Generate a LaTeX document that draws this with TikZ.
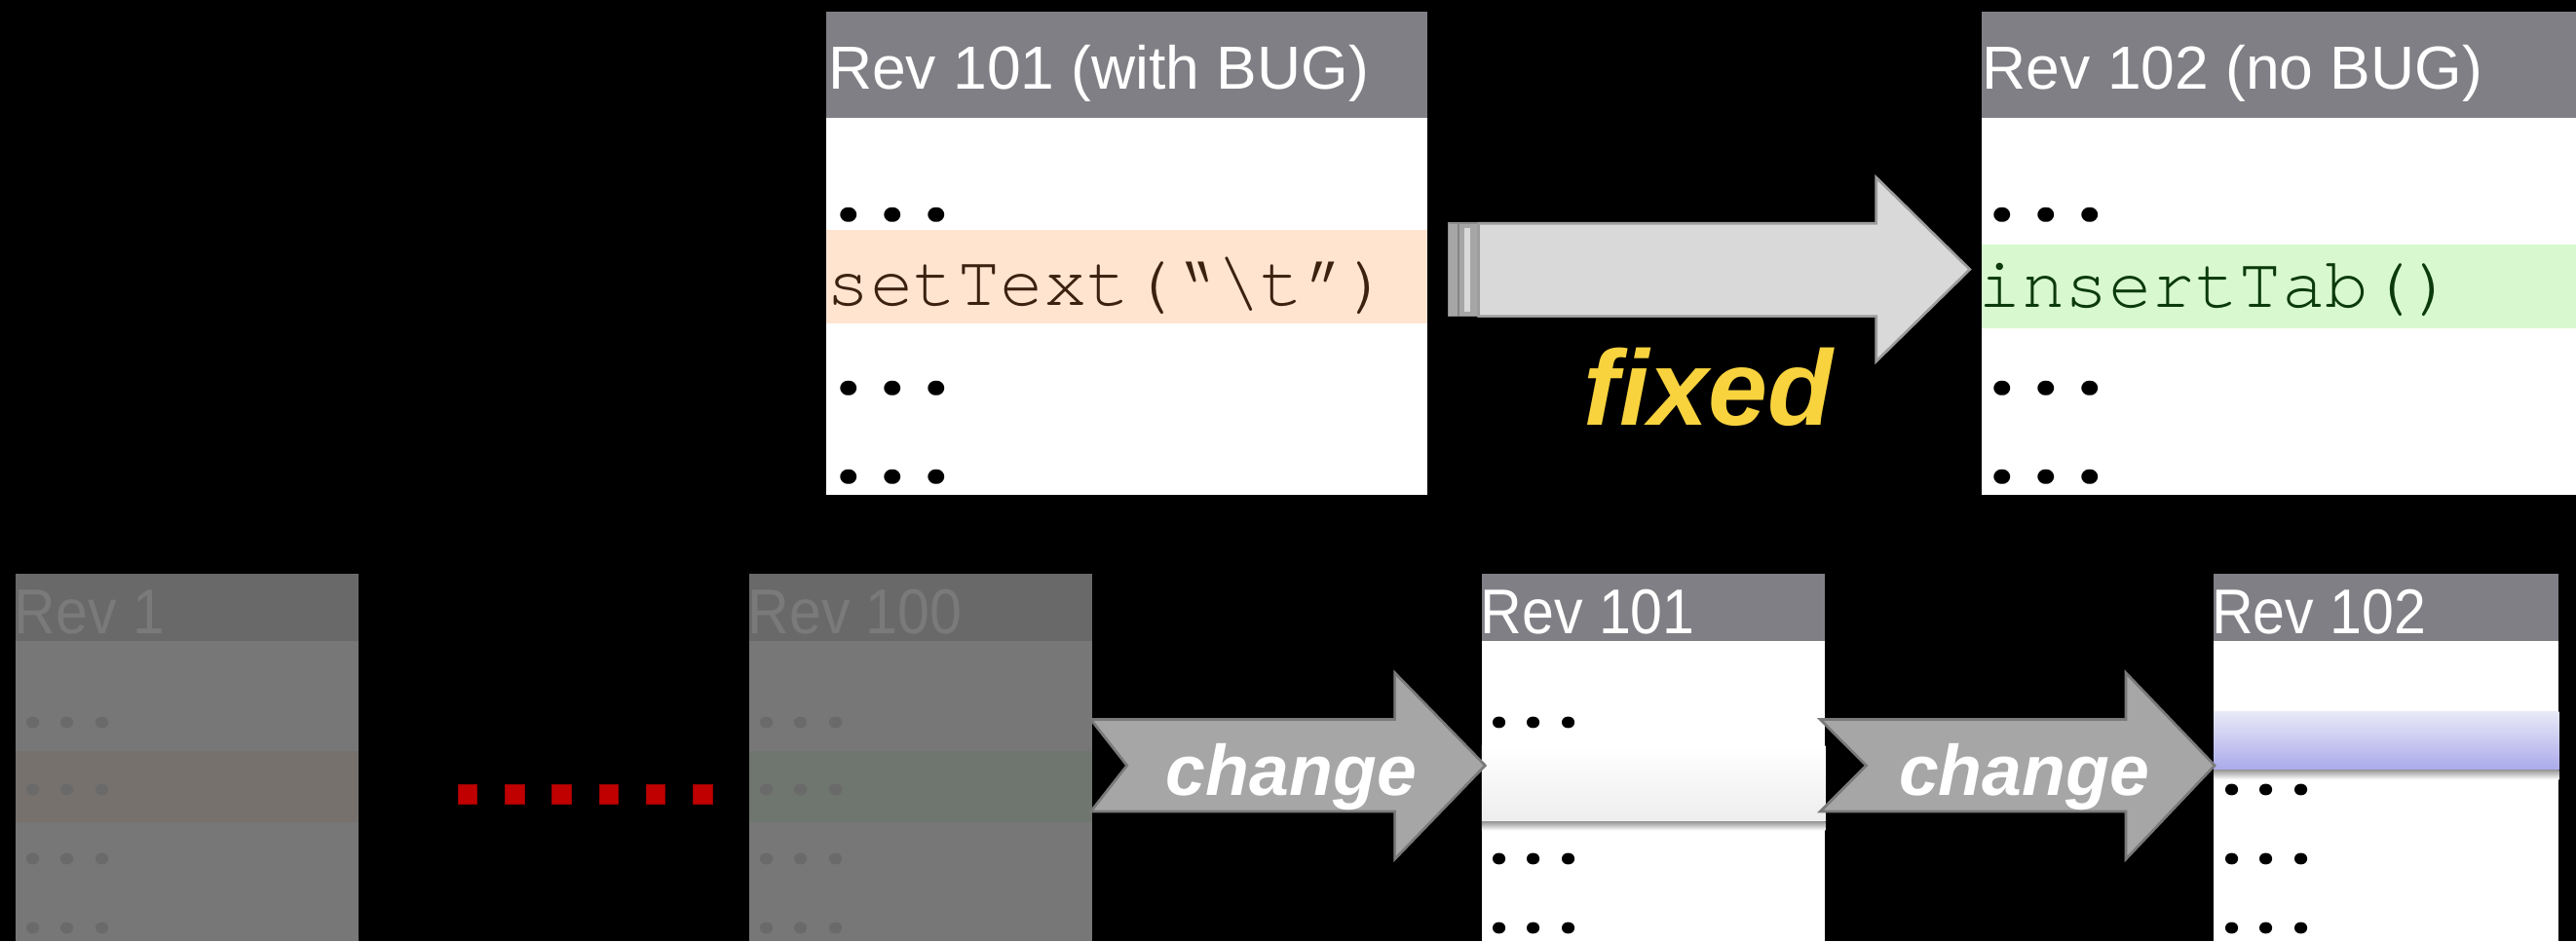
\documentclass[tikz,border=0pt]{standalone}
\usepackage{fontspec}
\setmainfont{Liberation Sans}
\newfontfamily\codefont{TeX Gyre Cursor}
\usetikzlibrary{calc}
\definecolor{hdr}{HTML}{807F85}
\definecolor{dimhdr}{HTML}{696969}
\definecolor{dimbody}{HTML}{777777}
\definecolor{dimtext}{HTML}{7A7A7A}
\definecolor{dimdot}{HTML}{6A6A6A}
\definecolor{dimorange}{HTML}{76716D}
\definecolor{dimgreen}{HTML}{6F756F}
\definecolor{orangeband}{HTML}{FFE4D0}
\definecolor{greenband}{HTML}{D8F8D0}
\definecolor{codebrown}{HTML}{3B2210}
\definecolor{codegreen}{HTML}{0B3A0B}
\definecolor{fixfill}{HTML}{D9D9D9}
\definecolor{fixline}{HTML}{9C9C9C}
\definecolor{chgfill}{HTML}{A6A6A6}
\definecolor{chgline}{HTML}{7A7A7A}
\definecolor{fixyellow}{HTML}{F8D33E}
\definecolor{dotred}{HTML}{C00000}
\definecolor{bluetop}{HTML}{E8E8F8}
\definecolor{bluebot}{HTML}{A9A9EA}
\newcommand\onedot{\makebox[0.6em][c]{\scalebox{1.5}{.}}}
\newcommand\threedots{\onedot\onedot\onedot}
\tikzset{
  hdrtext/.style={anchor=base west, inner sep=0pt, text=white, font=\fontsize{37}{37}\selectfont},
  bothdr/.style={anchor=base west, inner sep=0pt, text=white, font=\fontsize{38.5}{38.5}\selectfont},
  codetext/.style={anchor=base west, inner sep=0pt, font=\codefont\fontsize{44}{44}\selectfont},
  dotstop/.style={anchor=base west, inner sep=0pt, text=black, font=\codefont\bfseries\fontsize{44.5}{44.5}\selectfont},
  dotsbot/.style={anchor=base west, inner sep=0pt, text=black, font=\codefont\bfseries\fontsize{35}{35}\selectfont},
  arrowlabel/.style={anchor=base, inner sep=0pt, text=white, font=\bfseries\itshape\fontsize{43.5}{43.5}\selectfont},
  fixarrow/.style={fill=fixfill, draw=fixline, line width=1.6pt, line join=miter},
  chgarrow/.style={fill=chgfill, draw=chgline, line width=1.6pt, line join=miter},
  redsq/.style={fill=dotred, draw=dotred!80!black, line width=0.5pt},
}
\begin{document}
\begin{tikzpicture}[x=1pt,y=-1pt]
\useasboundingbox (0,0) rectangle (1568,573);
\fill[black] (0,0) rectangle (1568,573);

% ---------- top: Rev 101 (with BUG)
\fill[white] (503,7) rectangle (869,301);
\fill[hdr] (503,7) rectangle (869,72);
\fill[orangeband] (503,140) rectangle (869,197);
\node[hdrtext] (t101h) at (504,54) {Rev 101 (with BUG)};
\node[dotstop] (t101d1) at (503,134.5) {\threedots};
\node[codetext, text=codebrown] (t101c) at (503,186) {setText(“\textbackslash t”)};
\node[dotstop] (t101d2) at (503,240) {\threedots};
\node[dotstop] (t101d3) at (503,293.6) {\threedots};

% ---------- top: Rev 102 (no BUG)
\fill[white] (1206,7) rectangle (1568,301);
\fill[hdr] (1206,7) rectangle (1568,72);
\fill[greenband] (1206,149) rectangle (1568,200);
\node[hdrtext] (t102h) at (1206.5,54) {Rev 102 (no BUG)};
\node[dotstop] (t102d1) at (1205.5,134.5) {\threedots};
\node[codetext, text=codegreen] (t102c) at (1204,187) {insertTab()};
\node[dotstop] (t102d2) at (1205.5,240) {\threedots};
\node[dotstop] (t102d3) at (1205.5,293.6) {\threedots};

% ---------- fixed arrow
\draw[fill=chgfill, draw=fixline!90!black, line width=1pt] (881.5,136) rectangle (900,192.5);
\draw[draw=fixline!85!black, line width=1.2pt] (888,136) -- (888,192.5);
\fill[fixfill] (891.5,139) rectangle (895,189.5);
\draw[fixarrow] (900,136) -- (1142,136) -- (1142,108) -- (1199,164) -- (1142,220) -- (1142,192.5) -- (900,192.5) -- cycle;
\node[anchor=base, inner sep=0pt, text=fixyellow, font=\bfseries\itshape\fontsize{65}{65}\selectfont] (fixedlbl) at (1040,259) {fixed};

% ---------- bottom: Rev 1 (dimmed)
\fill[dimbody] (9.5,349) rectangle (218.5,573);
\fill[dimhdr] (9.5,349) rectangle (218.5,390);
\fill[dimorange] (9.5,457) rectangle (218.5,500.5);
\node[bothdr, text=dimtext] (b1h) at (8.5,385.5) {\scalebox{0.91}[1]{Rev 1}};
\foreach \yy/\nm in {442.6/1,483.6/2,525.6/3,567.6/4}
  \node[dotsbot, text=dimdot] (b1d\nm) at (9.5,\yy) {\threedots};

% ---------- red dots
\foreach \i in {0,...,5}
  \draw[redsq] ({279+28.6*\i},477.5) rectangle ({290.5+28.6*\i},489.3);

% ---------- bottom: Rev 100 (dimmed)
\fill[dimbody] (456,349) rectangle (665,573);
\fill[dimhdr] (456,349) rectangle (665,390);
\fill[dimgreen] (456,457) rectangle (665,500.5);
\node[bothdr, text=dimtext] (b100h) at (455,385.5) {\scalebox{0.91}[1]{Rev 100}};
\foreach \yy/\nm in {442.6/1,483.6/2,525.6/3,567.6/4}
  \node[dotsbot, text=dimdot] (b100d\nm) at (456,\yy) {\threedots};

% ---------- bottom: Rev 101
\fill[white] (902,349) rectangle (1111,573);
\fill[hdr] (902,349) rectangle (1111,390);
\shade[top color=white, bottom color=black!7] (902,454) rectangle (1111,500.5);
\shade[top color=black!38, bottom color=white] (902,500.5) rectangle (1111,505.5);
\node[bothdr] (b101h) at (901,385.5) {\scalebox{0.91}[1]{Rev 101}};
\node[dotsbot] (b101d1) at (902,442.6) {\threedots};
\node[dotsbot] (b101d2) at (902,525.6) {\threedots};
\node[dotsbot] (b101d3) at (902,567.6) {\threedots};

% ---------- bottom: Rev 102
\fill[white] (1347.5,349) rectangle (1557.5,573);
\fill[hdr] (1347.5,349) rectangle (1557.5,390);
\shade[top color=bluetop, bottom color=bluebot] (1347.5,433.5) rectangle (1557.5,469);
\shade[top color=black!38, bottom color=white] (1347.5,469) rectangle (1557.5,474.5);
\node[bothdr] (b102h) at (1346,385.5) {\scalebox{0.91}[1]{Rev 102}};
\node[dotsbot] (b102d1) at (1348,483.6) {\threedots};
\node[dotsbot] (b102d2) at (1348,525.6) {\threedots};
\node[dotsbot] (b102d3) at (1348,567.6) {\threedots};

% ---------- change arrows
\draw[chgarrow] (664,438) -- (849,438) -- (849,409.6) -- (904,466) -- (849,523) -- (849,494) -- (664,494) -- (686,466) -- cycle;
\node[arrowlabel] (chg1) at (786,484) {change};
\draw[chgarrow] (1108,438) -- (1294,438) -- (1294,409.6) -- (1348,466) -- (1294,523) -- (1294,494) -- (1108,494) -- (1136,466) -- cycle;
\node[arrowlabel] (chg2) at (1232,484) {change};
\end{tikzpicture}
\end{document}
